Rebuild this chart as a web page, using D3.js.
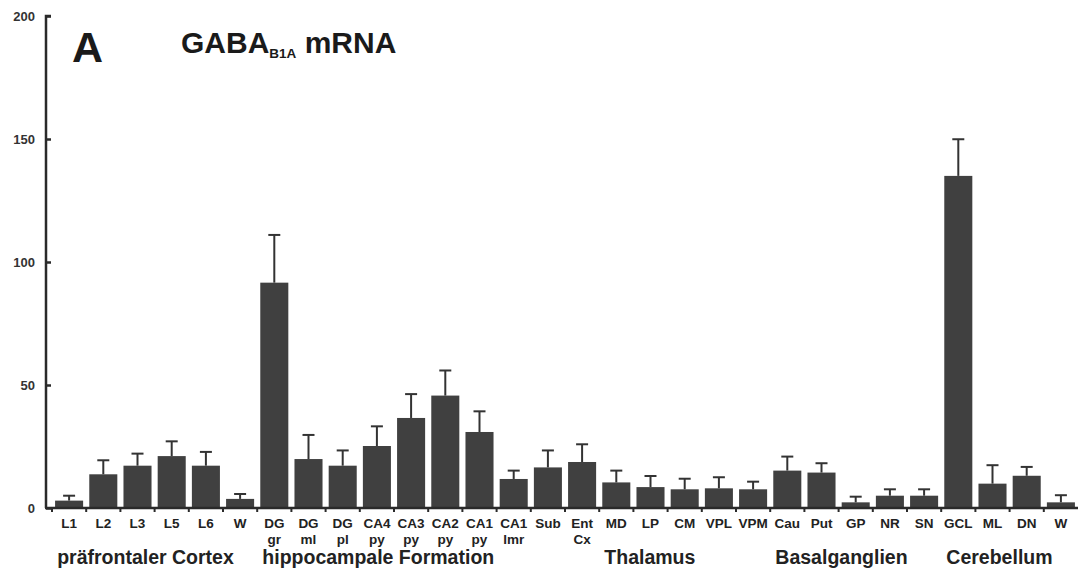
<!DOCTYPE html>
<html><head><meta charset="utf-8">
<script src="https://cdn.jsdelivr.net/npm/d3@7"></script>
<style>body{margin:0;background:#fff;} svg{display:block;}</style>
</head><body>
<svg id="chart" width="1078" height="574"></svg>
<script>
const categories = ["L1","L2","L3","L5","L6","W","DG\ngr","DG\nml","DG\npl","CA4\npy","CA3\npy","CA2\npy","CA1\npy","CA1\nlmr","Sub","Ent\nCx","MD","LP","CM","VPL","VPM","Cau","Put","GP","NR","SN","GCL","ML","DN","W "];
const values = [3.0,13.7,17.2,21.1,17.2,3.7,91.6,19.9,17.2,25.2,36.6,45.7,30.9,11.8,16.5,18.7,10.4,8.5,7.6,8.0,7.6,15.2,14.4,2.3,5.0,5.0,135,9.9,13.1,2.3];
const errors = [2.0,5.7,4.9,6.0,5.6,2.0,19.4,9.8,6.2,8.0,9.7,10.2,8.4,3.4,6.9,7.2,4.8,4.5,4.3,4.5,3.1,5.7,3.8,2.3,2.6,2.6,14.9,7.5,3.6,2.9];
const groups = ["präfrontaler Cortex","hippocampale Formation","Thalamus","Basalganglien","Cerebellum"];
const groupStarts = ["L1","DG\ngr","MD","Cau","GCL"];
const yTicks = [0,50,100,150,200];

const svg = d3.select("#chart");
const font = "'Liberation Sans', Arial, sans-serif";
const x = d3.scaleBand().domain(categories).range([52,1078]).paddingInner(0.18).paddingOuter(0.09);
const y = d3.scaleLinear().domain([0,200]).range([508,16]);
const ink = "#2a2a2a";

// bars
svg.append("g").selectAll("rect").data(values).join("rect")
  .attr("x",(d,i)=>x(categories[i]))
  .attr("y",d=>y(d))
  .attr("width",x.bandwidth())
  .attr("height",d=>y(0)-y(d))
  .attr("fill","#404040");

// error bars
const eg = svg.append("g").attr("stroke","#333").attr("stroke-width",2);
values.forEach((v,i)=>{
  const cx = x(categories[i]) + x.bandwidth()/2;
  eg.append("line").attr("x1",cx).attr("x2",cx).attr("y1",y(v)).attr("y2",y(v+errors[i]));
  eg.append("line").attr("x1",cx-6).attr("x2",cx+6).attr("y1",y(v+errors[i])).attr("y2",y(v+errors[i]));
});

// y axis
const yAxis = d3.axisRight(y).tickValues(yTicks).tickSize(5).tickFormat(d3.format("d"));
const ya = svg.append("g").attr("transform","translate(46,0)").call(yAxis);
ya.select(".domain").attr("stroke",ink).attr("stroke-width",2.5).attr("d","M5,16H0V508");
ya.selectAll(".tick line").attr("stroke",ink).attr("stroke-width",2.5);
ya.selectAll(".tick text").attr("x",-11).attr("text-anchor","end").attr("dy","0.35em")
  .attr("font-family",font).attr("font-weight","bold").attr("font-size",13).attr("fill","#333");

// x axis line & ticks at band boundaries
const bounds = categories.map(c=>x(c)-x.step()*x.paddingInner()/2);
const xa = svg.append("g");
xa.append("line").attr("x1",45).attr("x2",1078).attr("y1",508).attr("y2",508).attr("stroke",ink).attr("stroke-width",2.5);
xa.selectAll("line.t").data(bounds).join("line").attr("class","t")
  .attr("x1",d=>d).attr("x2",d=>d).attr("y1",508).attr("y2",512).attr("stroke",ink).attr("stroke-width",2);

// category labels
const lg = svg.append("g").attr("font-family",font).attr("font-weight","bold").attr("font-size",13.5).attr("fill","#222").attr("text-anchor","middle");
categories.forEach(c=>{
  const lines = c.trim().split("\n");
  const cx = x(c)+x.bandwidth()/2;
  lines.forEach((l,k)=>lg.append("text").attr("x",cx).attr("y",528+k*15.5).text(l));
});

// group labels
const gg = svg.append("g").attr("font-family",font).attr("font-weight","bold").attr("font-size",19.5).attr("fill","#222");
groups.forEach((g,i)=>{
  gg.append("text").attr("x",x(groupStarts[i])+x.step()*x.paddingInner()/2 - 1).attr("y",564).text(g);
});

// titles
svg.append("text").attr("x",72).attr("y",62).attr("font-family",font).attr("font-weight","bold").attr("font-size",43).attr("fill","#1a1a1a").text("A");
const tt = svg.append("text").attr("x",181).attr("y",53).attr("font-family",font).attr("font-weight","bold").attr("font-size",30).attr("fill","#1a1a1a");
tt.append("tspan").text("GABA");
tt.append("tspan").attr("font-size",13.5).attr("dy",5).text("B1A");
tt.append("tspan").attr("dy",-5).text(" mRNA");
</script>
</body></html>
